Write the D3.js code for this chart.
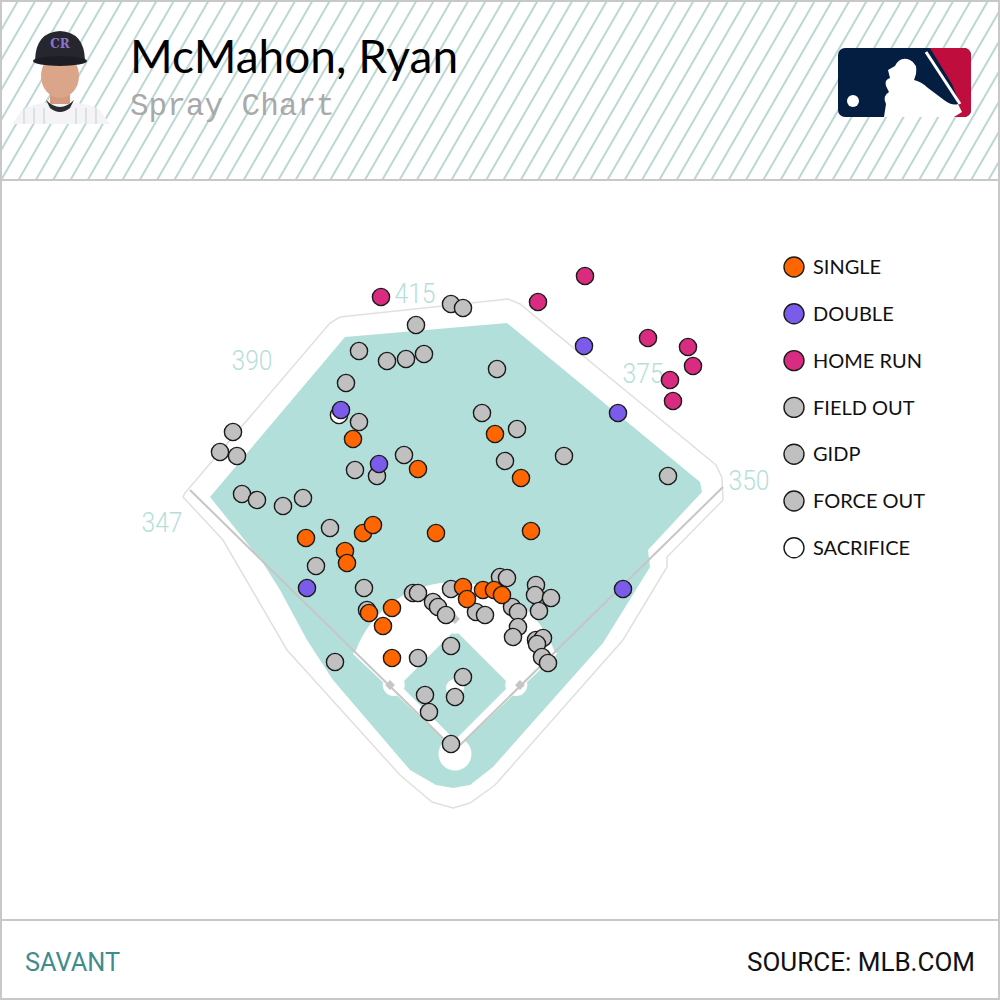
<!DOCTYPE html>
<html>
<head>
<meta charset="utf-8">
<script src="https://cdn.jsdelivr.net/npm/d3@7"></script>
<style>
body { margin: 0; background: #fff; }
svg { display: block; }
</style>
</head>
<body>
<svg width="1000" height="1000"></svg>
<script>
// batted balls in statcast hit coordinates [hc_x, hc_y]
var singles = [
  [84.2, 79.6], [110.2, 91.6], [141, 77.6], [151.4, 95.2], [65.4, 119.2],
  [88.2, 117.2], [92.2, 114], [117.4, 117.2], [155.4, 116.4], [81, 124.4],
  [81.8, 129.2], [99.8, 147.2], [96.2, 154.4], [90.6, 149.2], [99.8, 167.2],
  [128.2, 138.8], [129.8, 143.6], [136.2, 140], [140.6, 140], [143.8, 142]
];
var doubles = [
  [176.6, 42.4], [190.2, 69.2], [79.4, 68], [94.6, 89.6], [65.8, 139.2], [192.2, 139.6]
];
var homeRuns = [
  [95.4, 22.8], [177, 14.4], [158.2, 24.8], [202.2, 39.2],
  [218.2, 42.8], [220.2, 50.4], [211, 56], [212.2, 64.4]
];
var sacrifices = [[78.6, 70]];
var fieldOuts = [
  [123.4, 25.6], [128.2, 27.2], [109.4, 34], [86.6, 44.4], [97.8, 48.4],
  [105.4, 47.6], [112.6, 45.6], [141.8, 51.6], [81.4, 57.2], [135.8, 69.2],
  [86.6, 72.8], [149.8, 75.6], [36.2, 76.8], [31, 84.8], [37.8, 86.4],
  [104.6, 86], [145, 88.4], [168.6, 86.4], [85, 92], [93.8, 94.4],
  [210.2, 94.4], [39.8, 101.6], [45.8, 104], [56.2, 106.4], [64.2, 103.2],
  [75, 115.2], [69.4, 130.4], [88.6, 139.2], [89.8, 148], [77, 168.8],
  [108.2, 141.2], [110.2, 141.2], [116.2, 144.8], [118.2, 146.8], [121.4, 150],
  [123.4, 139.6], [133.4, 148.8], [137, 150], [143, 134.8], [145.8, 135.2],
  [147.8, 146.8], [150.2, 148.8], [150.2, 154.8], [148.2, 158.8], [157.4, 138],
  [157, 142], [163.4, 143.2], [158.6, 148.4], [157.4, 160], [160.2, 159.2],
  [157.8, 161.6], [159.8, 166.8], [162.2, 169.2], [123.4, 162.4], [110.2, 167.2],
  [128.2, 174.8], [125, 182.8], [113, 182], [114.6, 188.8], [123.4, 201.6]
];

var eventNames = ["SINGLE", "DOUBLE", "HOME RUN", "FIELD OUT", "GIDP", "FORCE OUT", "SACRIFICE"];
var eventColors = ["#ff6600", "#7b5cea", "#d92c81", "#c0c0c0", "#c0c0c0", "#c0c0c0", "#ffffff"];

// wall distance labels (ft) and where they sit, hc units
var wallLabels = ["347", "390", "415", "375", "350"];
var wallLabelPos = [[7.8, 112.8], [43.8, 48], [109, 21.2], [200.2, 53.2], [242.6, 96]];

// ballpark shape, hc units
var grassOutline = [
  [27, 102.8], [81, 38.8], [145.8, 33.2], [223, 96.8], [223.8, 100.8], [202.2, 124],
  [203, 130.8], [184.2, 161.2], [140.2, 210.8], [131, 218], [124.2, 219.2], [117.4, 218],
  [107, 212], [76.2, 176], [65.8, 160], [55, 140], [48.2, 129.2]
];
var wallOutline = [
  [17, 101.2], [75, 33.2], [79, 30.8], [146.2, 23.6], [151, 25.6], [229.4, 90],
  [231.8, 95.2], [232.2, 104], [209.8, 126.8], [209.8, 130.8], [192.2, 160], [141, 218],
  [131, 225.2], [124.2, 227.2], [115.8, 224.8], [103, 214], [57.8, 164], [32.2, 120], [16.2, 102.8]
];
var homePlate = [125, 204];
var mound = [125, 179.2];
var leftPole = [19, 100];
var rightPole = [232.2, 98.8];
var bases = [[151, 178], [125, 151.6], [99, 178]];
var infieldGrass = [[125, 200], [147, 178], [125, 156], [103, 178]];

var svg = d3.select("svg"),
  width = +svg.attr("width"),
  height = +svg.attr("height");

var x = d3.scaleLinear().domain([0, 250]).range([142.5, 767.5]);
var y = d3.scaleLinear().domain([0, 250]).range([240, 865]);
var unit = function (d) { return x(d) - x(0); };

var line = d3.line().x(function (d) { return x(d[0]); }).y(function (d) { return y(d[1]); });
var ring = d3.line().x(function (d) { return x(d[0]); }).y(function (d) { return y(d[1]); }).curve(d3.curveLinearClosed);

// header hatching
var defs = svg.append("defs");
defs.append("pattern").
attr("id", "hatch").
attr("patternUnits", "userSpaceOnUse").
attr("width", 15).attr("height", 15).
attr("patternTransform", "rotate(30)").
append("line").
attr("x1", 1).attr("y1", 0).attr("x2", 1).attr("y2", 15).
attr("stroke", "#8dbcb7").attr("stroke-width", 1.2);

svg.append("rect").attr("width", width).attr("height", height).attr("fill", "#fff");
svg.append("rect").attr("x", 0).attr("y", 0).attr("width", width).attr("height", 180).attr("fill", "url(#hatch)");

// player photo placeholder
var photo = svg.append("g");
photo.append("path").
attr("d", "M12,124 L22,110 Q40,100 60,104 Q82,100 100,110 L110,124 Z").
attr("fill", "#f4f4f6");
[24, 34, 44, 76, 86, 96].forEach(function (px) {
  photo.append("line").attr("x1", px).attr("y1", 108).attr("x2", px).attr("y2", 124).
  attr("stroke", "#c9c9d6").attr("stroke-width", 1);
});
photo.append("path").attr("d", "M46,100 Q60,114 74,100 L70,108 Q60,116 50,108 Z").attr("fill", "#2c2c33");
photo.append("rect").attr("x", 50).attr("y", 86).attr("width", 20).attr("height", 18).attr("fill", "#d49a80");
photo.append("ellipse").attr("cx", 60).attr("cy", 76).attr("rx", 19).attr("ry", 22).attr("fill", "#dba58a");
photo.append("path").
attr("d", "M35,60 Q36,32 60,31 Q84,32 85,60 Z").
attr("fill", "#26262e");
photo.append("ellipse").attr("cx", 60).attr("cy", 61).attr("rx", 27).attr("ry", 5).attr("fill", "#1d1d24");
photo.append("text").attr("x", 60).attr("y", 48).attr("text-anchor", "middle").
attr("font-family", "DejaVu Serif").attr("font-size", 12).attr("font-weight", "bold").
attr("fill", "#8c74c8").text("CR");

// title
svg.append("text").
attr("x", 130).attr("y", 73).
attr("font-family", "Lato, 'Noto Sans', sans-serif").
attr("font-size", 46).attr("fill", "#000").
text("McMahon, Ryan");
svg.append("text").
attr("x", 130).attr("y", 115).
attr("font-family", "'Liberation Mono', 'DejaVu Sans Mono', monospace").
attr("font-size", 31).attr("fill", "#a9a9a9").
text("Spray Chart");

// MLB logo
defs.append("clipPath").attr("id", "logoClip").
append("rect").attr("x", 838).attr("y", 48).attr("width", 133).attr("height", 69).attr("rx", 7);
var logo = svg.append("g").attr("clip-path", "url(#logoClip)");
logo.append("rect").attr("x", 838).attr("y", 48).attr("width", 133).attr("height", 69).attr("fill", "#041e42");
logo.append("path").attr("d", "M930,48 L971,48 L971,117 L948,117 L960,104 L952,84 Z").attr("fill", "#bf0d3e");
logo.append("path").
attr("d", "M884,117 L886,104 Q882,96 889,92 L886,86 Q884,80 890,78 L888,70 L895,66 Q900,56 910,60 Q918,64 916,74 L914,80 Q922,82 928,88 L944,100 Q952,106 958,104 L962,112 L954,117 Z").
attr("fill", "#fff");
logo.append("line").attr("x1", 926).attr("y1", 52).attr("x2", 960).attr("y2", 104).
attr("stroke", "#fff").attr("stroke-width", 3);
logo.append("circle").attr("cx", 853).attr("cy", 101).attr("r", 6).attr("fill", "#fff");

// frame lines
svg.append("rect").attr("x", 1).attr("y", 1).attr("width", width - 2).attr("height", height - 2).
attr("fill", "none").attr("stroke", "#c8c8c8").attr("stroke-width", 2);
svg.append("line").attr("x1", 0).attr("x2", width).attr("y1", 180).attr("y2", 180).
attr("stroke", "#c8c8c8").attr("stroke-width", 2);
svg.append("line").attr("x1", 0).attr("x2", width).attr("y1", 920).attr("y2", 920).
attr("stroke", "#c8c8c8").attr("stroke-width", 2);

// field
var field = svg.append("g");
field.append("path").attr("d", ring(wallOutline)).
attr("fill", "none").attr("stroke", "#e0e0e0").attr("stroke-width", 1.5);
field.append("path").attr("d", ring(grassOutline)).attr("fill", "#b3dfdb");

// infield dirt: foul line to foul line arc around the mound
var hx = x(homePlate[0]), hy = y(homePlate[1]);
var mx = x(mound[0]), my = y(mound[1]);
var r = unit(42.4);
var dm = hy - my;
var t = (dm + Math.sqrt(2 * r * r - dm * dm)) / 2;
var a0 = Math.atan2(hy - t - my, hx - t - mx);
var a1 = Math.atan2(hy - t - my, hx + t - mx);
if (a1 < a0) a1 += 2 * Math.PI;
var dirt = d3.path();
dirt.moveTo(hx, hy);
dirt.lineTo(hx - t - 3, hy - t + 3);
dirt.arc(mx, my, r, a0, a1, false);
dirt.lineTo(hx + t + 3, hy - t + 3);
dirt.closePath();
field.append("path").attr("d", dirt.toString()).attr("fill", "#fff");

field.append("path").attr("d", ring(infieldGrass)).attr("fill", "#b3dfdb");
field.selectAll(".cut").data(bases).enter().append("circle").
attr("cx", function (d) { return x(d[0] + (d[0] > 125 ? -1.5 : d[0] < 125 ? 1.5 : 0)); }).
attr("cy", function (d) { return y(d[1] + (d[0] === 125 ? 1.5 : 0)); }).
attr("r", unit(4.4)).attr("fill", "#fff");
field.append("circle").attr("cx", mx).attr("cy", my).attr("r", unit(3.6)).attr("fill", "#fff");
field.append("circle").attr("cx", hx).attr("cy", y(homePlate[1] + 1.6)).attr("r", unit(6.6)).attr("fill", "#fff");

field.selectAll(".foul").data([leftPole, rightPole]).enter().append("path").
attr("d", function (d) { return line([homePlate, d]); }).
attr("fill", "none").attr("stroke", "#c6c6c6").attr("stroke-width", 2);

field.selectAll(".base").data(bases).enter().append("rect").
attr("x", -3.5).attr("y", -3.5).attr("width", 7).attr("height", 7).
attr("transform", function (d) { return "translate(" + x(d[0]) + "," + y(d[1]) + ") rotate(45)"; }).
attr("fill", "#c6c6c6");

field.selectAll(".dist").data(wallLabels).enter().append("text").
attr("x", function (d, i) { return x(wallLabelPos[i][0]); }).
attr("y", function (d, i) { return y(wallLabelPos[i][1]); }).
attr("dy", "0.36em").
attr("text-anchor", "middle").
attr("font-family", "Roboto, sans-serif").
attr("font-weight", 300).
attr("font-size", 28).
attr("textLength", 41).attr("lengthAdjust", "spacingAndGlyphs").
attr("fill", "#b5dfdb").
text(function (d) { return d; });

// batted balls
var layers = [
  { data: sacrifices, color: eventColors[6] },
  { data: fieldOuts, color: eventColors[3] },
  { data: singles, color: eventColors[0] },
  { data: doubles, color: eventColors[1] },
  { data: homeRuns, color: eventColors[2] }
];
var balls = svg.append("g");
layers.forEach(function (layer) {
  balls.selectAll(null).data(layer.data).enter().append("circle").
  attr("cx", function (d) { return x(d[0]); }).
  attr("cy", function (d) { return y(d[1]); }).
  attr("r", 8.6).
  attr("fill", layer.color).
  attr("stroke", "#1a1a1a").attr("stroke-width", 1.4);
});

// legend
var legend = svg.append("g").attr("transform", "translate(794,267)");
var row = legend.selectAll("g").data(eventNames).enter().append("g").
attr("transform", function (d, i) { return "translate(0," + i * 46.8 + ")"; });
row.append("circle").attr("r", 10).
attr("fill", function (d, i) { return eventColors[i]; }).
attr("stroke", "#1a1a1a").attr("stroke-width", 1.4);
row.append("text").attr("x", 19).attr("dy", "0.36em").
attr("font-family", "Lato, sans-serif").attr("font-size", 20).attr("fill", "#111").
text(function (d) { return d; });

// footer
svg.append("text").attr("x", 25).attr("y", 971).
attr("font-family", "Roboto, sans-serif").attr("font-size", 25).
attr("textLength", 95).attr("lengthAdjust", "spacingAndGlyphs").
attr("fill", "#3f8c8c").text("SAVANT");
svg.append("text").attr("x", 975).attr("y", 971).attr("text-anchor", "end").
attr("font-family", "Roboto, sans-serif").attr("font-size", 25).
attr("textLength", 228).attr("lengthAdjust", "spacingAndGlyphs").
attr("fill", "#111").text("SOURCE: MLB.COM");
</script>
</body>
</html>
